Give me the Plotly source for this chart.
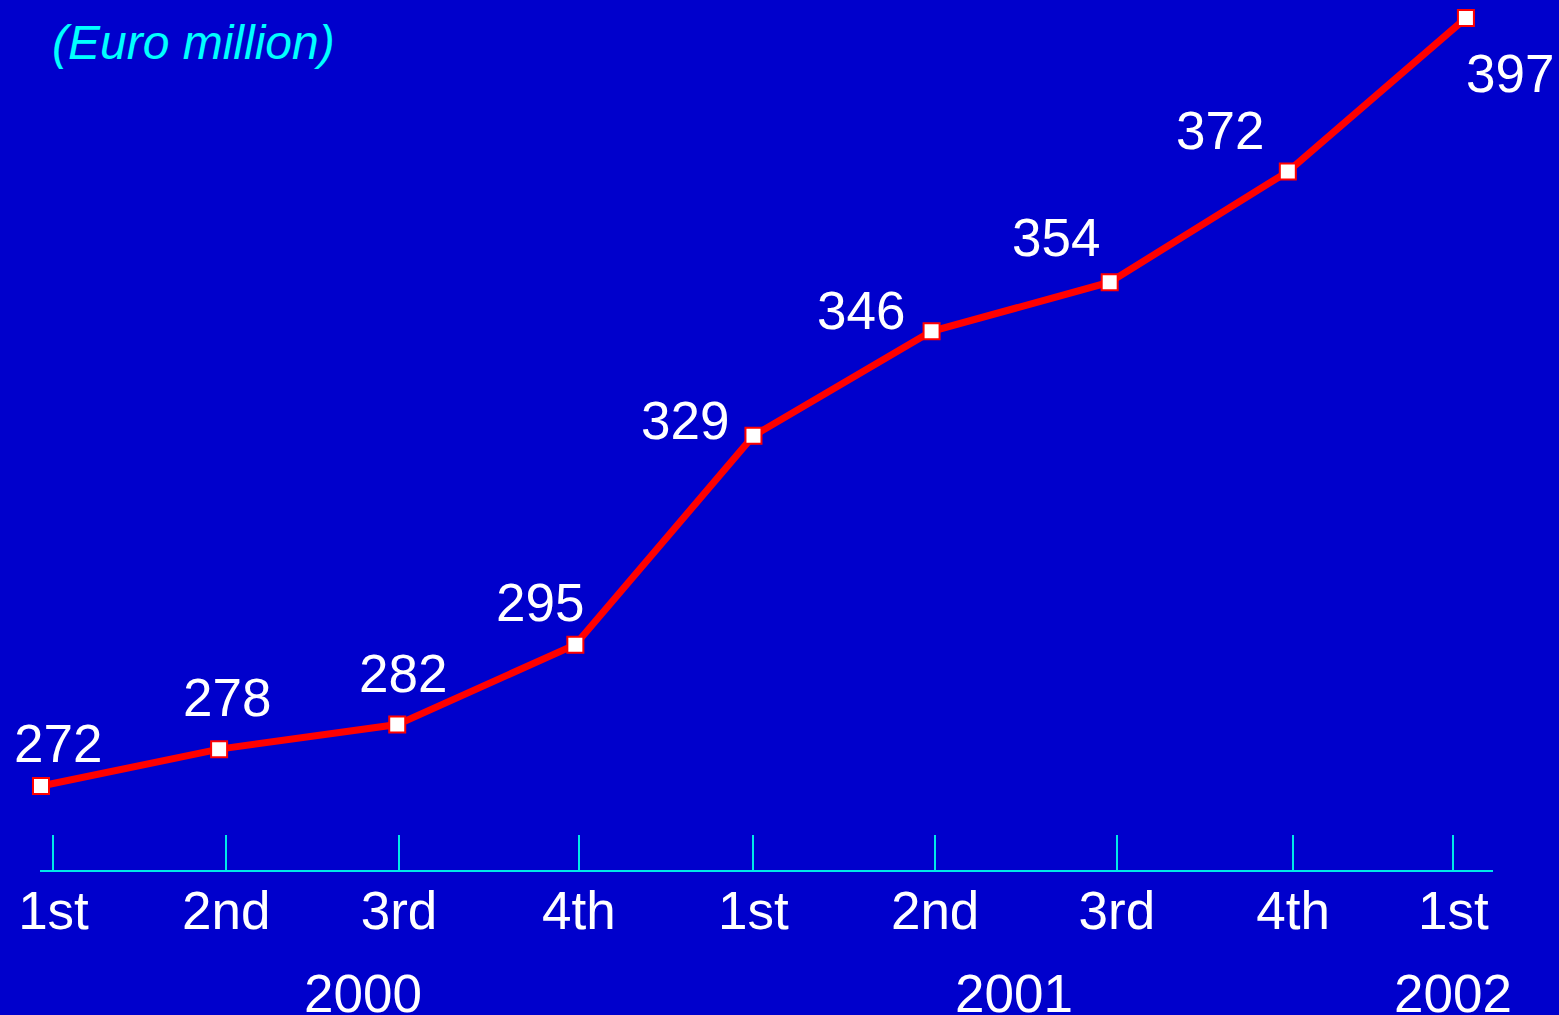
import plotly.graph_objects as go

# Quarterly values, Euro million
quarters = ["1st", "2nd", "3rd", "4th", "1st", "2nd", "3rd", "4th", "1st"]
values = [272, 278, 282, 295, 329, 346, 354, 372, 397]
years = ["2000", "2001", "2002"]

x = list(range(len(values)))

BG = "#0000CC"
CYAN = "#00E8E8"
FONT = "Liberation Sans, Arial, sans-serif"

# Hand-placed tick marks along the quarter axis
tick_pos = [0.07, 1.04, 2.01, 3.02, 4.0, 5.02, 6.04, 7.03, 7.93]
# Year caption positions (axis units)
year_pos = [1.81, 5.46, 7.93]
# Value label offsets in pixels (dx, dy) relative to each point
label_shift = [(17, 43), (8, 52), (6, 51), (-35, 42), (-68, 15),
               (-71, 21), (-54, 45), (-68, 41), (44, -55)]

fig = go.Figure()
fig.add_trace(go.Scatter(
    x=x, y=values, mode="lines+markers",
    line=dict(color="#FF0000", width=7),
    marker=dict(symbol="square", size=16, color="white",
                line=dict(color="#FF0000", width=2)),
    cliponaxis=False, hoverinfo="skip", showlegend=False,
))

for xi, v, (dx, dy) in zip(x, values, label_shift):
    fig.add_annotation(x=xi, y=v, text=str(v), showarrow=False,
                       xshift=dx, yshift=dy,
                       font=dict(family=FONT, size=53, color="white"))

for yp, yr in zip(year_pos, years):
    fig.add_annotation(x=yp, y=0, yref="paper", yanchor="top", yshift=-92,
                       text=yr, showarrow=False,
                       font=dict(family=FONT, size=53, color="white"))

fig.add_annotation(x=0, xref="paper", xanchor="left", xshift=10,
                   y=1, yref="paper", yanchor="middle", yshift=-42,
                   text="<i>(Euro million)</i>", showarrow=False,
                   font=dict(family=FONT, size=48, color="#00FFFF"))

fig.update_layout(
    width=1559, height=1015,
    paper_bgcolor=BG, plot_bgcolor=BG,
    margin=dict(l=40, r=66, t=0, b=145),
    xaxis=dict(range=[-0.0056, 8.152], showgrid=False, zeroline=False,
               showline=True, linecolor=CYAN, linewidth=2,
               ticks="inside", ticklen=35, tickwidth=2, tickcolor=CYAN,
               tickvals=tick_pos, ticktext=quarters, ticklabelstandoff=-7,
               tickfont=dict(family=FONT, size=53, color="white")),
    yaxis=dict(range=[258.33, 399.93], visible=False, showgrid=False,
               zeroline=False, fixedrange=True),
)

fig.write_html("out.html")
